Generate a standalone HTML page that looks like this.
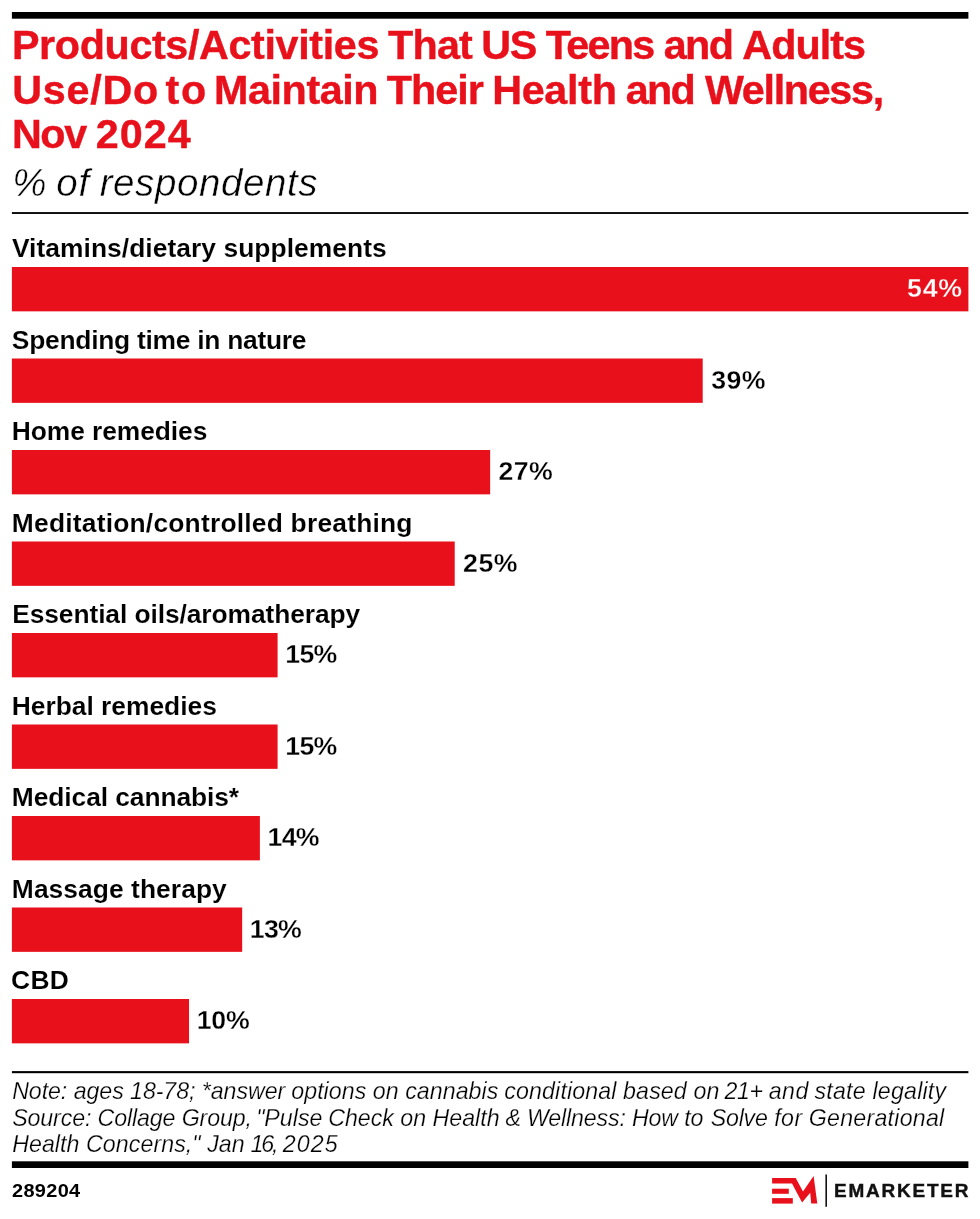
<!DOCTYPE html>
<html lang="en">
<head>
<meta charset="utf-8">
<title>Products/Activities That US Teens and Adults Use/Do to Maintain Their Health and Wellness, Nov 2024</title>
<style>
html,body{margin:0;padding:0;background:#fff;}
body{width:980px;height:1219px;position:relative;overflow:hidden;font-family:"Liberation Sans",sans-serif;color:#000;}
body>div,svg,.ln>span{position:absolute;white-space:nowrap;}
.ln{left:0;width:980px;}
.ln>span{top:0;}
.t{font-size:41.3px;line-height:44px;height:44px;font-weight:bold;color:#e8111b;-webkit-text-stroke:0.4px #e8111b;}
.sub{font-size:38.5px;line-height:44px;height:44px;font-style:italic;-webkit-text-stroke:0.45px #fff;}
.lab{font-size:26.4px;line-height:30px;height:30px;font-weight:bold;-webkit-text-stroke:0.12px #fff;}
.val{font-size:26.7px;line-height:30px;height:30px;font-weight:bold;-webkit-text-stroke:0.3px #fff;}
.in{color:#fff;-webkit-text-stroke:0.3px #e8111b;}
.note{font-size:23.2px;line-height:26px;height:26px;font-style:italic;-webkit-text-stroke:0.25px #fff;}
.id{font-size:18px;line-height:22px;font-weight:bold;transform-origin:0 0;}
.brand{font-size:18px;line-height:22px;font-weight:bold;color:#111;transform-origin:0 0;-webkit-text-stroke:0.4px #111;}
.gfx{left:0;top:0;}
</style>
</head>
<body>
<svg class="gfx" width="980" height="1219" viewBox="0 0 980 1219">
<g fill="#000">
<rect x="11.9" y="12" width="956.5" height="6.7"/>
<rect x="11.9" y="212.1" width="956.5" height="1.85"/>
<rect x="11.9" y="1071.1" width="956.5" height="2.1"/>
<rect x="11.9" y="1161.3" width="956.5" height="6.7"/>
</g>
<g fill="#e8111b">
<rect x="11.9" y="267.00" width="956.50" height="44.35"/>
<rect x="11.9" y="358.50" width="690.81" height="44.35"/>
<rect x="11.9" y="450.00" width="478.25" height="44.35"/>
<rect x="11.9" y="541.50" width="442.82" height="44.35"/>
<rect x="11.9" y="633.00" width="265.69" height="44.35"/>
<rect x="11.9" y="724.50" width="265.69" height="44.35"/>
<rect x="11.9" y="816.00" width="247.98" height="44.35"/>
<rect x="11.9" y="907.50" width="230.27" height="44.35"/>
<rect x="11.9" y="999.00" width="177.13" height="44.35"/>
</g>
<path fill="#e8111b" d="M772.1,1178 L795.7,1178 L803,1191.4 L813.6,1176.1 L817.3,1203.6 L811.2,1203.6 L810.2,1192.7 L802.1,1202.5 L792,1183.6 L772.1,1183.6 Z"/>
<rect fill="#e8111b" x="772.1" y="1188.7" width="16.7" height="5.1"/>
<rect fill="#e8111b" x="772.1" y="1198.1" width="20.7" height="5.5"/>
<rect fill="#111" x="825.4" y="1174.5" width="1.6" height="32.3"/>
</svg>
<div class="t ln" style="top:23.39px"><span style="left:11.95px;letter-spacing:-0.369px">Products/Activities</span> <span style="left:388.10px;letter-spacing:-0.817px">That</span> <span style="left:481.20px;letter-spacing:-1.250px">US</span> <span style="left:545.80px;letter-spacing:-1.700px">Teens</span> <span style="left:663.65px;letter-spacing:-1.500px">and</span> <span style="left:742.30px;letter-spacing:-0.970px">Adults</span></div>
<div class="t ln" style="top:67.79px"><span style="left:12.20px;letter-spacing:0.750px">Use/Do</span> <span style="left:165.40px;letter-spacing:1.850px">to</span> <span style="left:213.95px;letter-spacing:-0.407px">Maintain</span> <span style="left:386.80px;letter-spacing:-0.987px">Their</span> <span style="left:492.15px;letter-spacing:-0.280px">Health</span> <span style="left:625.85px;letter-spacing:-1.750px">and</span> <span style="left:704.90px;letter-spacing:-1.312px">Wellness,</span></div>
<div class="t ln" style="top:112.19px"><span style="left:11.90px;letter-spacing:-1.375px">Nov</span> <span style="left:95.70px;letter-spacing:1.033px">2024</span></div>
<div class="sub ln" style="top:160.66px"><span style="left:12.35px;letter-spacing:0.000px">%</span> <span style="left:56.35px;letter-spacing:0.750px">of</span> <span style="left:99.65px;letter-spacing:0.595px">respondents</span></div>
<div class="lab" style="left:11.95px;top:233.35px;letter-spacing:0.046px">Vitamins/dietary supplements</div>
<div class="val in" style="left:907.05px;top:273.15px;letter-spacing:0.800px">54%</div>
<div class="lab" style="left:11.85px;top:324.85px;letter-spacing:-0.268px">Spending time in nature</div>
<div class="val" style="left:711.36px;top:364.65px;letter-spacing:0.300px">39%</div>
<div class="lab" style="left:11.85px;top:416.35px;letter-spacing:-0.087px">Home remedies</div>
<div class="val" style="left:498.55px;top:456.15px;letter-spacing:0.425px">27%</div>
<div class="lab" style="left:11.85px;top:507.85px;letter-spacing:0.208px">Meditation/controlled breathing</div>
<div class="val" style="left:463.12px;top:547.65px;letter-spacing:0.425px">25%</div>
<div class="lab" style="left:12.15px;top:599.35px;letter-spacing:-0.092px">Essential oils/aromatherapy</div>
<div class="val" style="left:285.24px;top:639.15px;letter-spacing:-0.700px">15%</div>
<div class="lab" style="left:11.85px;top:690.85px;letter-spacing:-0.029px">Herbal remedies</div>
<div class="val" style="left:285.24px;top:730.65px;letter-spacing:-0.700px">15%</div>
<div class="lab" style="left:11.85px;top:782.35px;letter-spacing:-0.094px">Medical cannabis*</div>
<div class="val" style="left:267.53px;top:822.15px;letter-spacing:-0.700px">14%</div>
<div class="lab" style="left:11.85px;top:873.85px;letter-spacing:0.054px">Massage therapy</div>
<div class="val" style="left:249.82px;top:913.65px;letter-spacing:-0.700px">13%</div>
<div class="lab" style="left:11.00px;top:965.35px;letter-spacing:0.350px">CBD</div>
<div class="val" style="left:196.68px;top:1005.15px;letter-spacing:-0.200px">10%</div>
<div class="note ln" style="top:1077.96px"><span style="left:12.15px;letter-spacing:-0.062px">Note: ages 18-78; *answer</span> <span style="left:291.25px;letter-spacing:0.044px">options on cannabis</span> <span style="left:504.35px;letter-spacing:0.121px">conditional based on</span> <span style="left:724.50px;letter-spacing:-0.400px">21+</span> <span style="left:768.70px;letter-spacing:0.525px">and</span> <span style="left:814.50px;letter-spacing:0.208px">state legality</span></div>
<div class="note ln" style="top:1104.66px"><span style="left:12.15px;letter-spacing:-0.117px">Source: Collage Group,</span> <span style="left:256.15px;letter-spacing:0.000px">"Pulse</span> <span style="left:328.15px;letter-spacing:0.000px">Check on Health</span> <span style="left:505.50px;letter-spacing:0.000px">&amp;</span> <span style="left:527.00px;letter-spacing:-0.153px">Wellness: How to</span> <span style="left:710.85px;letter-spacing:-0.250px">Solve</span> <span style="left:774.15px;letter-spacing:0.500px">for</span> <span style="left:808.75px;letter-spacing:0.245px">Generational</span></div>
<div class="note ln" style="top:1131.26px"><span style="left:12.15px;letter-spacing:0.065px">Health Concerns," Jan</span> <span style="left:250.45px;letter-spacing:-2.125px">16,</span> <span style="left:282.80px;letter-spacing:1.067px">2025</span></div>
<div class="id" style="left:11.87px;top:1179.96px;letter-spacing:0.3px;transform:scaleX(1.1078)">289204</div>
<div class="brand" style="left:834.18px;top:1180.16px;letter-spacing:1.7px;transform:scaleX(1.0532)">EMARKETER</div>
</body>
</html>
